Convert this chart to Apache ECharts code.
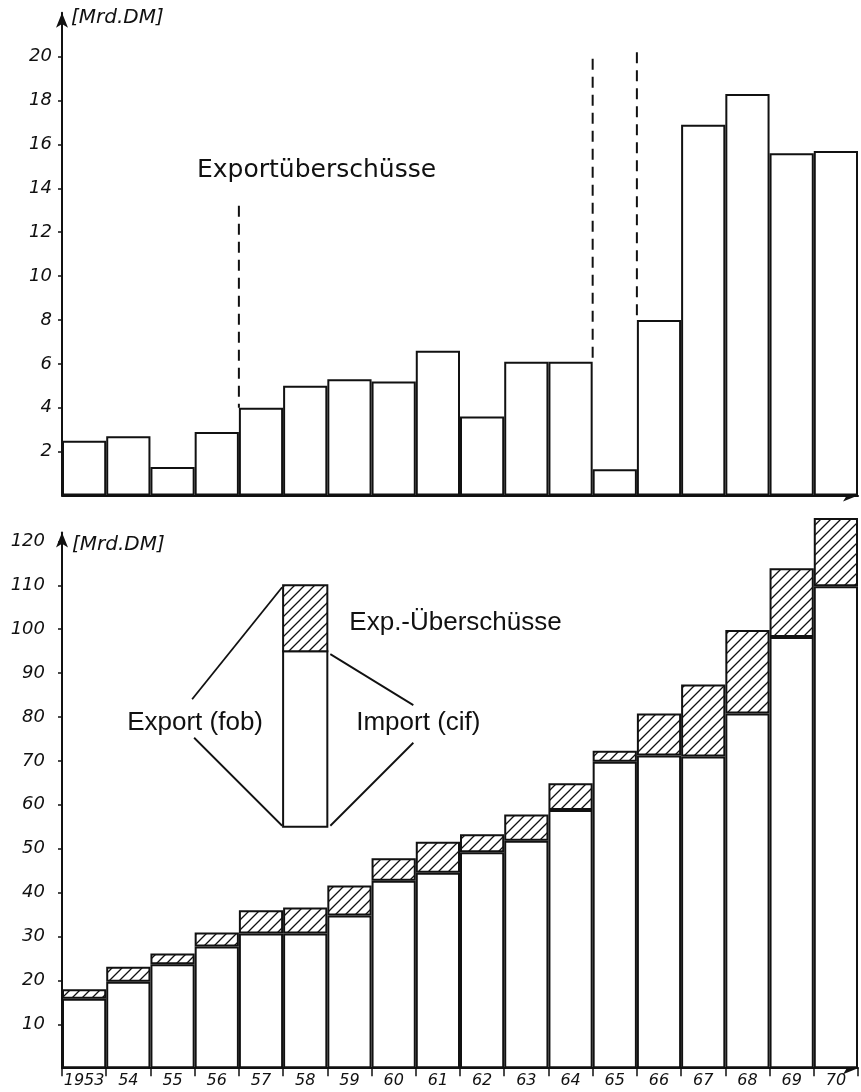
<!DOCTYPE html>
<html>
<head>
<meta charset="utf-8">
<script src="https://cdn.jsdelivr.net/npm/echarts@6/dist/echarts.min.js"></script>
<style>
  html, body { margin: 0; padding: 0; background: #fff; }
  #chart { width: 861px; height: 1092px; }
</style>
</head>
<body>
<div id="chart"></div>
<script>
// ---------- data ----------
const years = ['1953','1954','1955','1956','1957','1958','1959','1960','1961','1962','1963','1964','1965','1966','1967','1968','1969','1970'];
const yearLabels = ['1953','54','55','56','57','58','59','60','61','62','63','64','65','66','67','68','69','70'];
// top panel: Exportüberschüsse [Mrd. DM]
const surplusTop = [2.5, 2.7, 1.3, 2.9, 4.0, 5.0, 5.3, 5.2, 6.6, 3.6, 6.1, 6.1, 1.2, 8.0, 16.9, 18.3, 15.6, 15.7];
// bottom panel: Import (cif) and Export (fob) [Mrd. DM]
const imports = [15.8, 19.7, 23.7, 27.7, 30.7, 30.7, 34.8, 42.7, 44.5, 49.2, 51.8, 58.8, 69.8, 71.2, 71.0, 80.8, 98.2, 109.8];
const exportsFob = [18.0, 23.1, 26.1, 30.9, 36.0, 36.6, 41.6, 47.8, 51.6, 53.3, 57.8, 64.9, 72.3, 80.8, 87.4, 99.8, 113.9, 125.3];
const surplusBottom = exportsFob.map((v, i) => +(v - imports[i]).toFixed(1));
// dashed boundary lines in top panel: [category boundary index, upper value, lower value]
const dashedLines = [[4, 13.2, 4.0], [12, 19.9, 6.1], [13, 20.2, 8.0]];
// legend key bar: [category index, bottom, import top, export top]
const keyBar = [[5, 55, 95, 110]];
const topTicks = [2, 4, 6, 8, 10, 12, 14, 16, 18, 20];
const bottomTicks = [10, 20, 30, 40, 50, 60, 70, 80, 90, 100, 110, 120];

// ---------- hatch pattern ----------
function hatchCanvas() {
  const s = 10;
  const c = document.createElement('canvas');
  c.width = s; c.height = s;
  const g = c.getContext('2d');
  g.fillStyle = '#fff';
  g.fillRect(0, 0, s, s);
  g.strokeStyle = '#111';
  g.lineWidth = 1.3;
  g.beginPath();
  g.moveTo(0, s); g.lineTo(s, 0);
  g.moveTo(-2, 2); g.lineTo(2, -2);
  g.moveTo(s - 2, s + 2); g.lineTo(s + 2, s - 2);
  g.stroke();
  return c;
}
const hatch = hatchCanvas();

const INK = '#111';
const handFont = 'DejaVu Sans';

const chart = echarts.init(document.getElementById('chart'), null, { renderer: 'canvas' });

const axisLineStyle = { show: true, symbol: ['none', 'arrow'], symbolSize: [9, 15], lineStyle: { color: INK, width: 2 } };

const option = {
  animation: false,
  backgroundColor: '#fff',
  grid: [
    { left: 62, right: 3, top: 12.7, bottom: 596.4 },
    { left: 62, right: 3, top: 532.6, bottom: 23.8 }
  ],
  xAxis: [
    {
      type: 'category', gridIndex: 0, data: years,
      axisLine: axisLineStyle,
      axisTick: { show: false },
      axisLabel: { show: false },
      splitLine: { show: false }
    },
    {
      type: 'category', gridIndex: 1, data: yearLabels,
      axisLine: axisLineStyle,
      axisTick: { show: true, length: 8, lineStyle: { color: INK, width: 1.5 } },
      axisLabel: { interval: 0, margin: 5, color: INK, fontFamily: handFont, fontStyle: 'italic', fontSize: 16 },
      splitLine: { show: false }
    }
  ],
  yAxis: [
    {
      type: 'value', gridIndex: 0, min: 0, max: 22, interval: 2,
      axisLine: axisLineStyle,
      axisTick: { show: true, length: 4, customValues: topTicks, lineStyle: { color: INK, width: 1.5 } },
      axisLabel: { customValues: topTicks, margin: 10, color: INK, fontFamily: handFont, fontStyle: 'italic', fontSize: 18 },
      splitLine: { show: false }
    },
    {
      type: 'value', gridIndex: 1, min: 0, max: 122, interval: 10,
      axisLine: axisLineStyle,
      axisTick: { show: true, length: 4, customValues: bottomTicks, lineStyle: { color: INK, width: 1.5 } },
      axisLabel: { customValues: bottomTicks, margin: 17, color: INK, fontFamily: handFont, fontStyle: 'italic', fontSize: 18 },
      splitLine: { show: false }
    }
  ],
  graphic: [
    { type: 'text', left: 71, top: 8, style: { text: '[Mrd.DM]', font: 'italic 20px "DejaVu Sans"', fill: INK } },
    { type: 'text', left: 72, top: 535, style: { text: '[Mrd.DM]', font: 'italic 20px "DejaVu Sans"', fill: INK } },
    { type: 'text', x: 197, y: 170, style: { text: 'Exportüberschüsse', verticalAlign: 'middle', font: '25px "DejaVu Sans"', fill: INK } }
  ],
  series: [
    {
      name: 'Exportüberschüsse', type: 'bar', xAxisIndex: 0, yAxisIndex: 0,
      data: surplusTop, barCategoryGap: 0,
      itemStyle: { color: '#fff', borderColor: INK, borderWidth: 2 }
    },
    {
      name: 'Trennlinien', type: 'custom', xAxisIndex: 0, yAxisIndex: 0,
      data: dashedLines, silent: true, z: 5,
      renderItem: function (params, api) {
        const b = api.value(0);
        const top = api.coord([b, api.value(1)]);
        const bot = api.coord([b, api.value(2)]);
        const band = api.size([1, 0])[0];
        const x = top[0] - band / 2;
        return {
          type: 'line',
          shape: { x1: x, y1: top[1], x2: x, y2: bot[1] },
          style: { stroke: INK, lineWidth: 2, lineDash: [11, 7] }
        };
      }
    },
    {
      name: 'Import (cif)', type: 'bar', xAxisIndex: 1, yAxisIndex: 1, stack: 'trade',
      data: imports, barCategoryGap: 0, clip: false,
      itemStyle: { color: '#fff', borderColor: INK, borderWidth: 2 }
    },
    {
      name: 'Exp.-Überschüsse', type: 'bar', xAxisIndex: 1, yAxisIndex: 1, stack: 'trade',
      data: surplusBottom, barCategoryGap: 0, clip: false,
      itemStyle: { color: { image: hatch, repeat: 'repeat' }, borderColor: INK, borderWidth: 2 }
    },
    {
      name: 'Legende', type: 'custom', xAxisIndex: 1, yAxisIndex: 1,
      data: keyBar, silent: true, z: 6, clip: false,
      renderItem: function (params, api) {
        const c = api.value(0);
        const pLow = api.coord([c, api.value(1)]);
        const pMid = api.coord([c, api.value(2)]);
        const pHigh = api.coord([c, api.value(3)]);
        const w = api.size([1, 0])[0];
        const L = pLow[0] - w / 2, R = pLow[0] + w / 2;
        const ln = (x1, y1, x2, y2) => ({ type: 'line', shape: { x1, y1, x2, y2 }, style: { stroke: INK, lineWidth: 1.8 } });
        const txt = (t, x, y, align) => ({ type: 'text', style: { text: t, x, y, align: align, verticalAlign: 'middle', font: '26px "Liberation Sans"', fill: INK } });
        return {
          type: 'group',
          children: [
            { type: 'rect', shape: { x: L, y: pMid[1], width: w, height: pLow[1] - pMid[1] }, style: { fill: '#fff', stroke: INK, lineWidth: 2 } },
            { type: 'rect', shape: { x: L, y: pHigh[1], width: w, height: pMid[1] - pHigh[1] }, style: { fill: { image: hatch, repeat: 'repeat' }, stroke: INK, lineWidth: 2 } },
            ln(L - 91, pHigh[1] + 114, L - 1, pHigh[1] + 2),
            ln(L - 89, pLow[1] - 89, L - 1, pLow[1] - 1),
            ln(R + 3, pMid[1] + 3, R + 86, pMid[1] + 54),
            ln(R + 3, pLow[1] - 1, R + 86, pLow[1] - 84),
            txt('Export (fob)', L - 88, pLow[1] - 104, 'center'),
            txt('Import (cif)', R + 91, pLow[1] - 104, 'center'),
            txt('Exp.-Überschüsse', R + 22, pHigh[1] + 38, 'left')
          ]
        };
      }
    }
  ]
};
chart.setOption(option);
</script>
</body>
</html>
